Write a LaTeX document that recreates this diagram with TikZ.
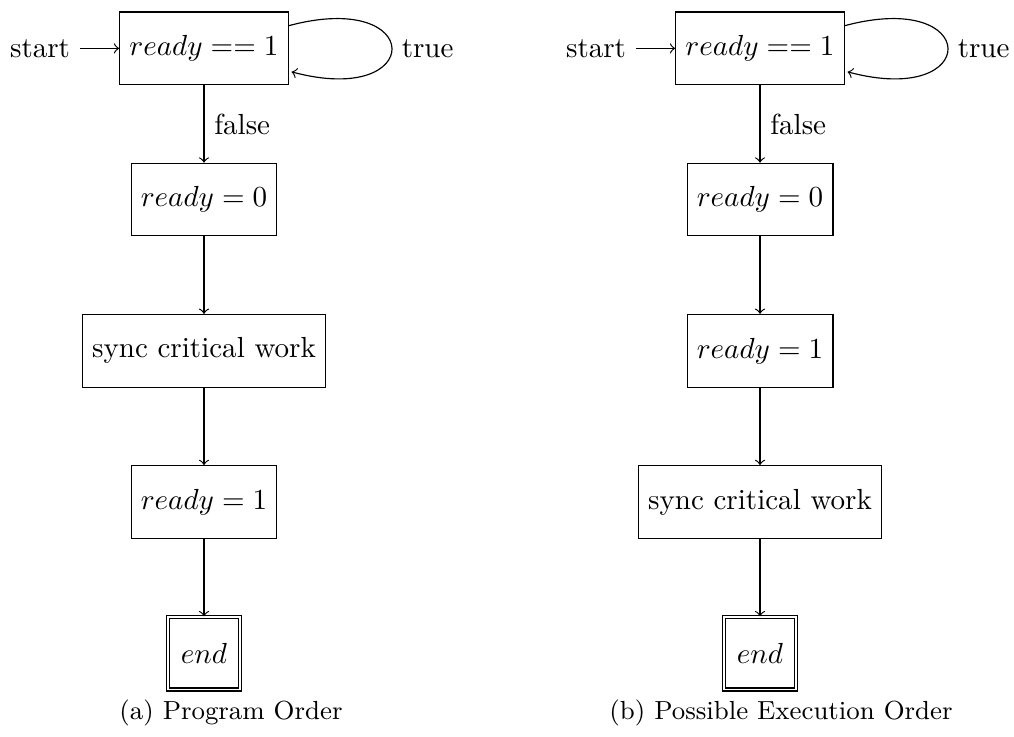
\documentclass[tikz,border=0pt]{standalone}
\usetikzlibrary{positioning}
\tikzset{
  stbox/.style={draw, rectangle, minimum size=25pt, inner sep=3.333pt},
  endbox/.style={stbox, double, double distance=0.6pt},
  flow/.style={->},
  selfloop/.style={->, shorten >=1pt},
  subcap/.style={font=\small, anchor=base},
}
\begin{document}
\begin{tikzpicture}[x=0.34423pt, y=-0.34423pt]
  \useasboundingbox (0,0) rectangle (1014,737);

  % (a) program order
  \node[stbox] (a1) at (204,48.4)  {$ready == 1$};
  \node[stbox] (a2) at (204,199.6) {$ready = 0$};
  \node[stbox] (a3) at (204,350.8) {sync critical work};
  \node[stbox] (a4) at (204,502.0) {$ready = 1$};
  \node[endbox] (a5) at (204,653.2) {$end$};
  \node (sa) [left=13.4pt of a1] {start};
  \draw[flow] (sa) -- (a1);
  \draw[selfloop] (a1) to[loop right] node[right] {true} (a1);
  \draw[flow] (a1) -- node[right] {false} (a2);
  \draw[flow] (a2) -- (a3);
  \draw[flow] (a3) -- (a4);
  \draw[flow] (a4) -- (a5);
  \node[subcap] (capa) at (231,719.6) {(a) Program Order};

  % (b) possible execution order
  \node[stbox] (b1) at (760,48.4)  {$ready == 1$};
  \node[stbox] (b2) at (760,199.6) {$ready = 0$};
  \node[stbox] (b3) at (760,350.8) {$ready = 1$};
  \node[stbox] (b4) at (760,502.0) {sync critical work};
  \node[endbox] (b5) at (760,653.2) {$end$};
  \node (sb) [left=13.4pt of b1] {start};
  \draw[flow] (sb) -- (b1);
  \draw[selfloop] (b1) to[loop right] node[right] {true} (b1);
  \draw[flow] (b1) -- node[right] {false} (b2);
  \draw[flow] (b2) -- (b3);
  \draw[flow] (b3) -- (b4);
  \draw[flow] (b4) -- (b5);
  \node[subcap] (capb) at (781,719.6) {(b) Possible Execution Order};
\end{tikzpicture}
\end{document}
